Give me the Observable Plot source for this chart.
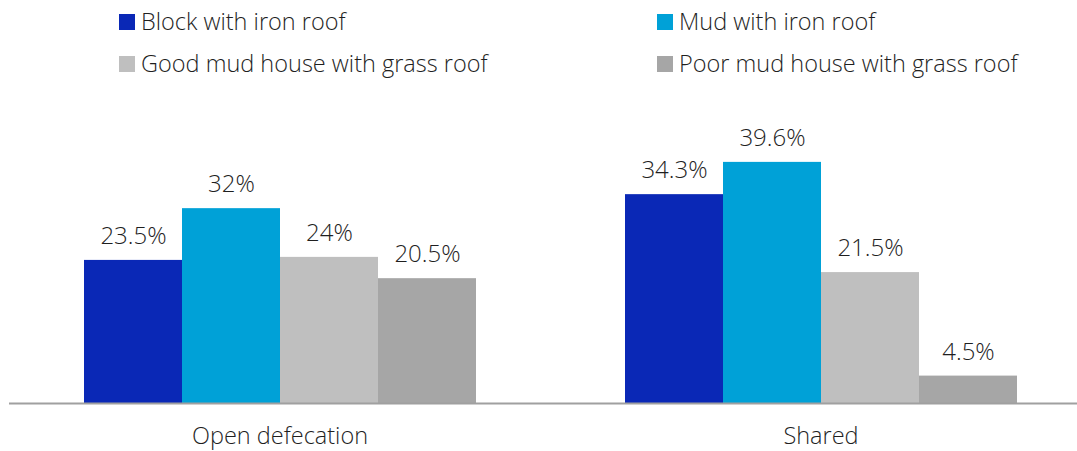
<!DOCTYPE html>
<html>
<head>
<meta charset="utf-8">
<script src="https://cdn.jsdelivr.net/npm/d3@7"></script>
<script src="https://cdn.jsdelivr.net/npm/@observablehq/plot@0.6"></script>
<style>
  html, body { margin: 0; padding: 0; background: #fff; overflow: hidden; }
  #legend { position: relative; height: 90px; font-family: "Open Sans", sans-serif; font-size: 23.5px; font-weight: 300; color: #1f1f1f; }
  .item { position: absolute; display: flex; align-items: center; white-space: nowrap; line-height: 30px; }
  .sw { width: 16px; height: 16px; margin-right: 6px; margin-top: 2px; }
  #chart svg { display: block; }
</style>
</head>
<body>
<div id="legend"></div>
<div id="chart"></div>
<script>
const groups = ["Open defecation", "Shared"];
const series = ["Block with iron roof", "Mud with iron roof", "Good mud house with grass roof", "Poor mud house with grass roof"];
const openDefecation = [23.5, 32, 24, 20.5];
const shared = [34.3, 39.6, 21.5, 4.5];
const colors = ["#0a28b6", "#00a1d7", "#bfbfbf", "#a6a6a6"];

const valuesByGroup = [openDefecation, shared];
const data = groups.flatMap((g, i) => series.map((s, j) => ({group: g, series: s, value: valuesByGroup[i][j]})));

// Legend (HTML, above the SVG)
const legendPos = [[119, 6], [657, 6], [119, 48], [657, 48]];
const legend = document.getElementById("legend");
series.forEach((s, i) => {
  const it = document.createElement("div");
  it.className = "item";
  it.style.left = legendPos[i][0] + "px";
  it.style.top = legendPos[i][1] + "px";
  const sw = document.createElement("span");
  sw.className = "sw";
  sw.style.background = colors[i];
  const t = document.createElement("span");
  t.textContent = s;
  it.appendChild(sw); it.appendChild(t);
  legend.appendChild(it);
});

const chart = Plot.plot({
  width: 1077,
  height: 361,
  marginTop: 39,
  marginBottom: 48,
  marginLeft: 9,
  marginRight: -14,
  fx: {domain: groups, padding: 0, label: null},
  x: {domain: series, paddingInner: 0, paddingOuter: 0.746, axis: null},
  y: {domain: [0, 45], axis: null},
  color: {domain: series, range: colors},
  style: {fontFamily: "Open Sans", fontSize: "23.5px", fontWeight: 300, color: "#1f1f1f", overflow: "visible", background: "transparent"},
  marks: [
    Plot.barY(data, {fx: "group", x: "series", y: "value", fill: "series"}),
    Plot.text(data, {fx: "group", x: "series", y: "value", text: d => d.value + "%", dy: -24, fill: "#1f1f1f", fontSize: 24}),
    Plot.ruleY([0], {stroke: "#a0a0a0", strokeWidth: 2}),
    Plot.axisFx({anchor: "bottom", tickSize: 0, tickPadding: 24, label: null, fontSize: 23.5, fill: "#1f1f1f"})
  ]
});
document.getElementById("chart").appendChild(chart);
</script>
</body>
</html>
